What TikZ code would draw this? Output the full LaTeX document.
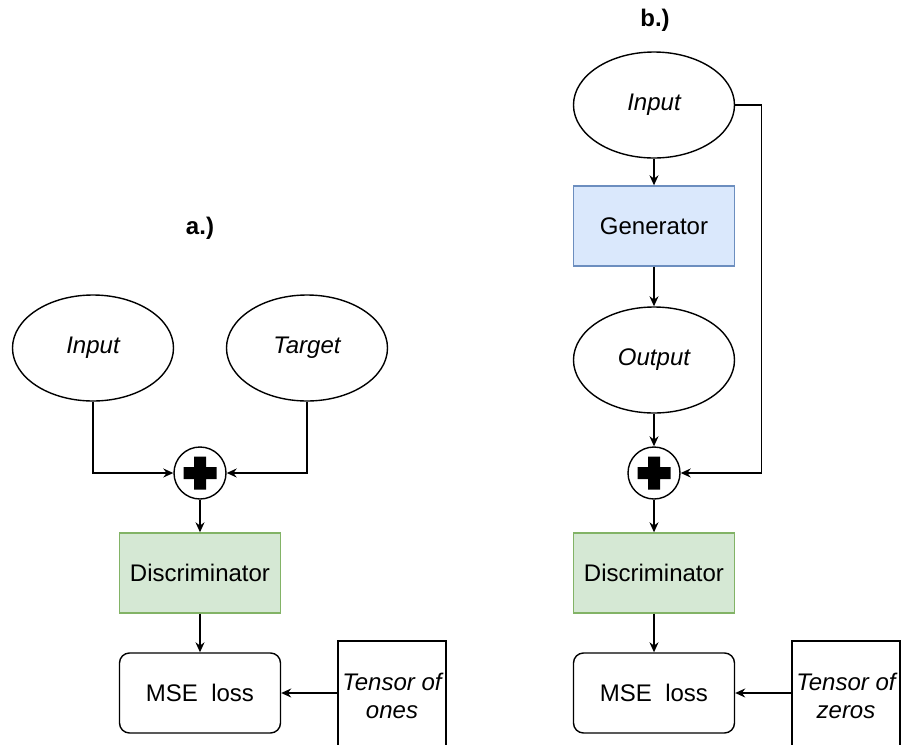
\documentclass[tikz,border=0pt]{standalone}
\usepackage{fontspec}
\setmainfont{Liberation Sans}
\usetikzlibrary{shapes.geometric}
\usetikzlibrary{arrows.meta}
\definecolor{genfill}{HTML}{DAE8FC}
\definecolor{gendraw}{HTML}{6C8EBF}
\definecolor{discfill}{HTML}{D5E8D4}
\definecolor{discdraw}{HTML}{82B366}
\begin{document}
\begin{tikzpicture}[x=0.5pt, y=-0.5pt, line width=0.7pt, font=\fontsize{12}{14}\selectfont,
        >={Stealth[length=5pt, width=4.5pt]},
        ell/.style = {draw, ellipse, minimum width=80.5pt, minimum height=53pt, inner sep=0pt, font=\fontsize{12}{14}\selectfont\itshape},
        gen/.style = {draw=gendraw, fill=genfill, minimum width=80.5pt, minimum height=40pt, inner sep=0pt},
        disc/.style = {draw=discdraw, fill=discfill, minimum width=80.5pt, minimum height=40pt, inner sep=0pt},
        loss/.style = {draw, rounded corners=5pt, minimum width=80.5pt, minimum height=40pt, inner sep=0pt},
        sum/.style = {draw, circle, minimum size=26pt, inner sep=0pt},
        tens/.style = {draw, minimum width=54pt, minimum height=55pt, inner sep=1pt, align=center, font=\fontsize{12}{14}\selectfont\itshape}]
        \clip (0,0) rectangle (901,745);
        % a.)
        \node[font=\fontsize{12}{14}\selectfont\bfseries] (la) at (200,228) {a.)};
        \node[ell] (in1) at (93,348) {Input};
        \node[ell] (tg1) at (307,348) {Target};
        \node[sum] (p1) at (200,473) {};
        \fill[shift={(p1.center)}] (-16.5,-6) rectangle (16.5,6) (-6,-16.5) rectangle (6,16.5);
        \node[disc] (d1) at (200,573) {Discriminator};
        \node[loss] (l1) at (200,693) {MSE~~loss};
        \node[tens] (t1) at (392,696) {Tensor of\\ones};
        \draw[->] (in1.south) |- (p1.west);
        \draw[->] (tg1.south) |- (p1.east);
        \draw[->] (p1) -- (d1);
        \draw[->] (d1) -- (l1);
        \draw[->] (t1.west |- l1.east) -- (l1.east);
        % b.)
        \node[font=\fontsize{12}{14}\selectfont\bfseries] (lb) at (655,20) {b.)};
        \node[ell] (in2) at (654,105) {Input};
        \node[gen] (g2) at (654,226) {Generator};
        \node[ell] (o2) at (654,360) {Output};
        \node[sum] (p2) at (654,473) {};
        \fill[shift={(p2.center)}] (-16.5,-6) rectangle (16.5,6) (-6,-16.5) rectangle (6,16.5);
        \node[disc] (d2) at (654,573) {Discriminator};
        \node[loss] (l2) at (654,693) {MSE~~loss};
        \node[tens] (t2) at (846,696) {Tensor of\\zeros};
        \draw[->] (in2) -- (g2);
        \draw[->] (g2) -- (o2);
        \draw[->] (o2) -- (p2);
        \draw[->] (in2.east) -- ++(26,0) |- (p2.east);
        \draw[->] (p2) -- (d2);
        \draw[->] (d2) -- (l2);
        \draw[->] (t2.west |- l2.east) -- (l2.east);
    \end{tikzpicture}
\end{document}
